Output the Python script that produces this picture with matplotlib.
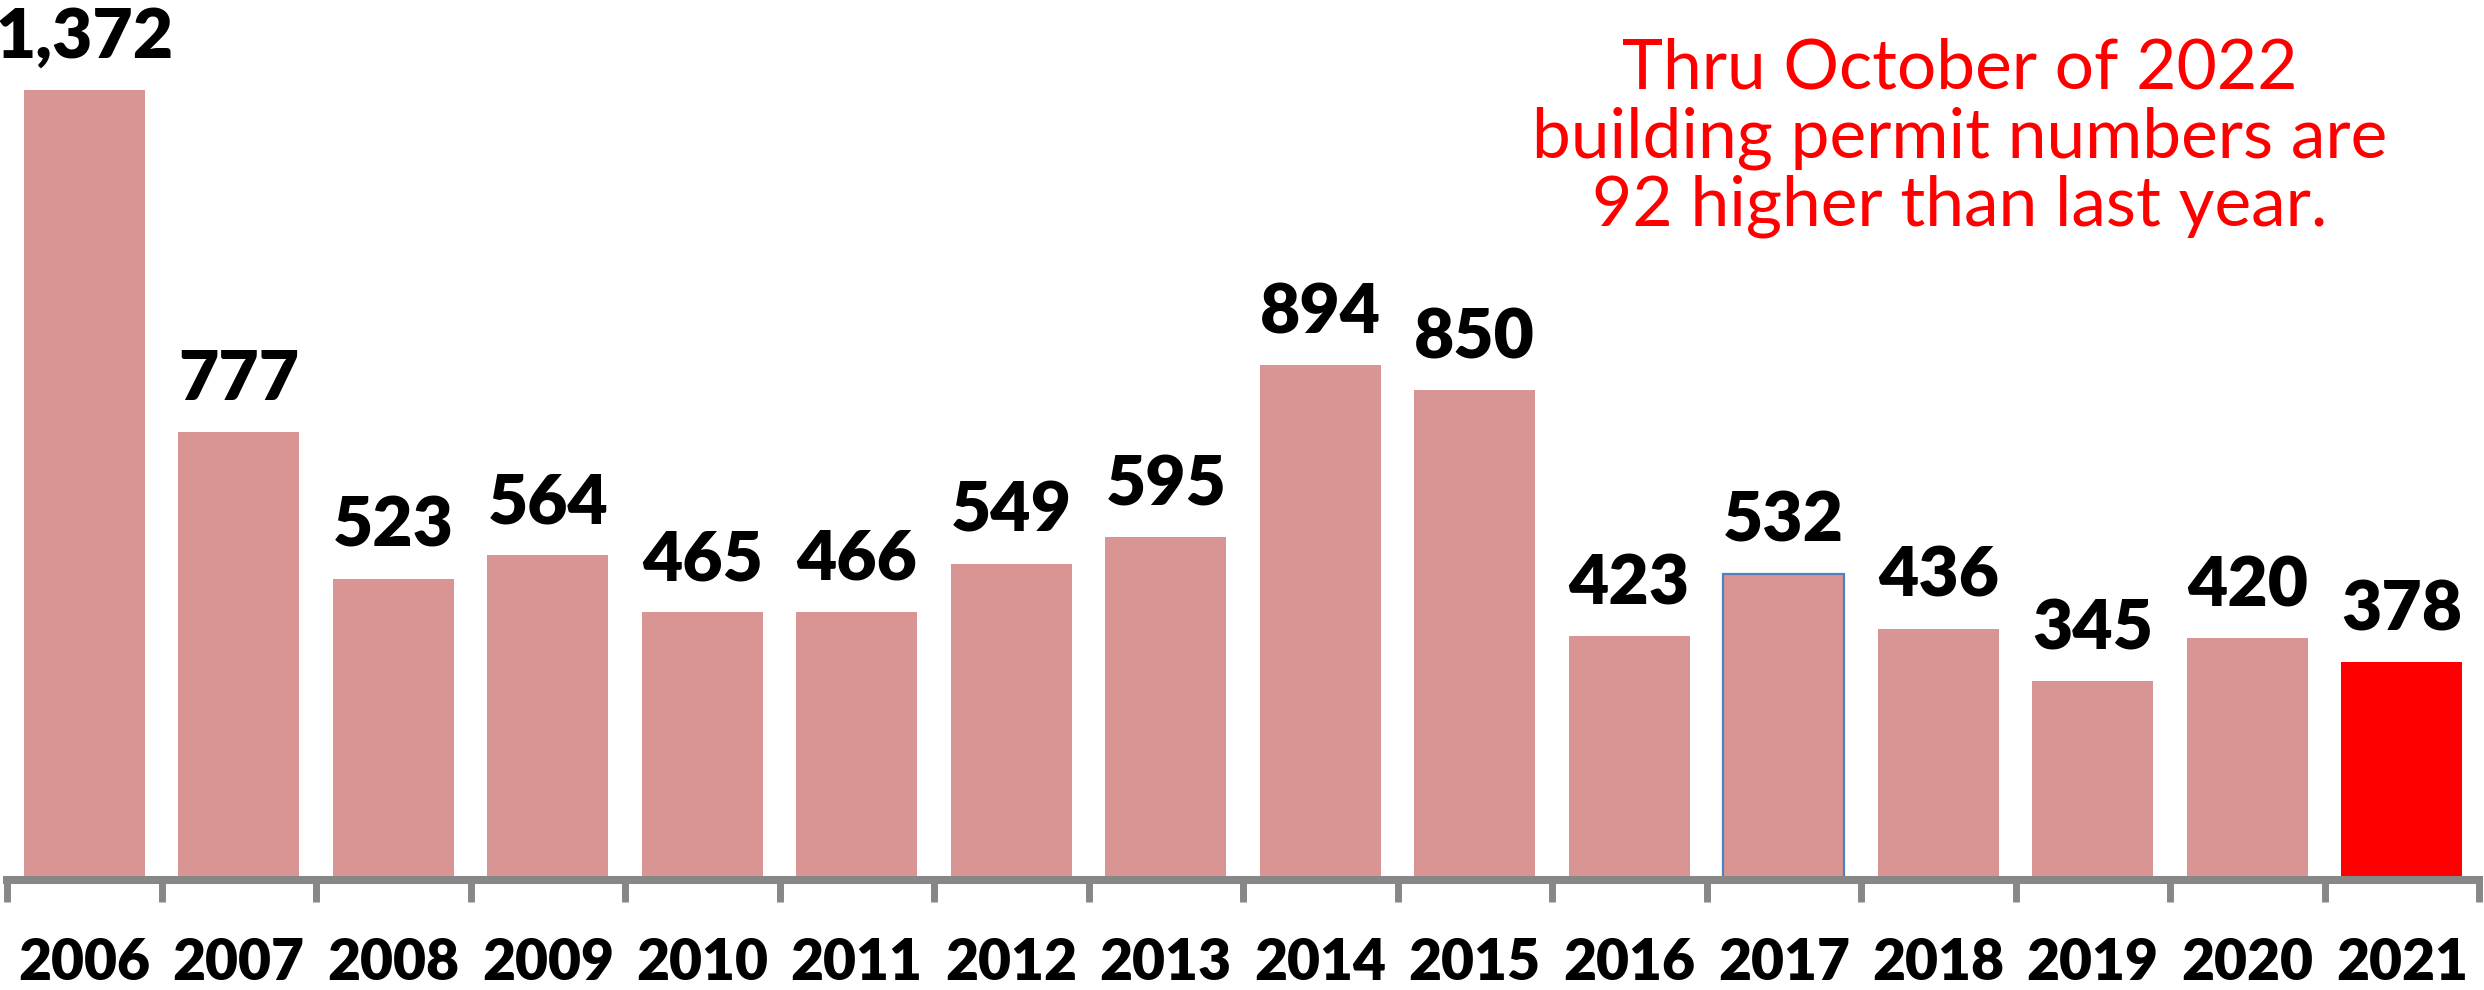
import matplotlib
matplotlib.use("Agg")
import matplotlib.pyplot as plt
import numpy as np

years = ["2006", "2007", "2008", "2009", "2010", "2011", "2012", "2013",
         "2014", "2015", "2016", "2017", "2018", "2019", "2020", "2021"]
permits = [1372, 777, 523, 564, 465, 466, 549, 595,
           894, 850, 423, 532, 436, 345, 420, 378]
value_labels = ["1,372", "777", "523", "564", "465", "466", "549", "595",
                "894", "850", "423", "532", "436", "345", "420", "378"]
note = "Thru October of 2022\nbuilding permit numbers are\n92 higher than last year."

PINK = "#D99594"
RED = "#FF0000"
GRAY = "#878787"

W, H, DPI = 2484, 990, 100
fig = plt.figure(figsize=(W / DPI, H / DPI), dpi=DPI)
ax_left = 7 / W
ax_right = 2479 / W
ax_bottom = 110 / H
ax = fig.add_axes([ax_left, ax_bottom, ax_right - ax_left, 1 - ax_bottom])

x = np.arange(len(years))
colors = [PINK] * len(years)
colors[-1] = RED
bars = ax.bar(x, permits, width=0.78, color=colors, linewidth=0, zorder=2)
bars[11].set_edgecolor("#4F81BD")
bars[11].set_linewidth(1.6)

ax.set_xlim(-0.5, len(years) - 0.5)
ax.set_ylim(0, 880 / 0.576)

for xi, v, lab in zip(x, permits, value_labels):
    ax.annotate(lab, (xi, v), xytext=(0, 32), textcoords="offset pixels",
                ha="center", va="baseline", fontsize=50, fontweight="heavy",
                family="Lato", color="black")

for s in ["top", "right", "left"]:
    ax.spines[s].set_visible(False)
ax.spines["bottom"].set_color(GRAY)
ax.spines["bottom"].set_linewidth(5.8)
ax.set_yticks([])

ax.set_xticks(x)
ax.set_xticklabels(years, fontsize=41, fontweight="heavy", family="Lato")
ax.tick_params(axis="x", which="major", length=0, pad=41)
ax.set_xticks(np.arange(-0.5, len(years)), minor=True)
ax.tick_params(axis="x", which="minor", length=16, width=5, color=GRAY)

fig.text(1960 / W, 1 - 138 / H, note, ha="center", va="center",
         fontsize=50, family="Lato", color=RED, linespacing=1.1,
         multialignment="center")

fig.savefig("out.png", dpi=DPI, facecolor="white")
